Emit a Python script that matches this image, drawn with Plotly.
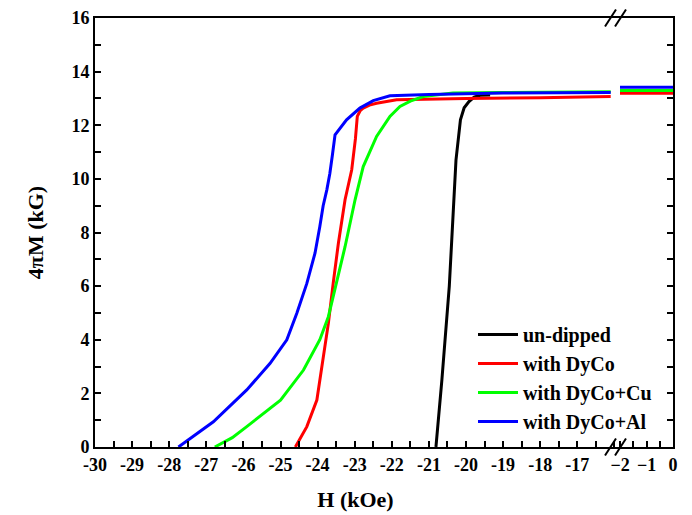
import plotly.graph_objects as go

# ---------------- data ----------------
h_undipped = [-20.81, -20.65, -20.45, -20.27, -20.15, -20.05, -19.92, -19.78, -19.62, -19.35]
m_undipped = [0.0, 2.5, 6.0, 10.7, 12.2, 12.65, 12.88, 13.05, 13.12, 13.13]

h_dyco = [-24.60, -24.45, -24.29, -24.02, -23.85, -23.71, -23.58, -23.44, -23.26, -23.08,
          -22.98, -22.93, -22.85, -22.77, -22.60, -22.41, -21.87, -21.00, -20.00, -18.00, -16.10]
m_dyco = [0.0, 0.35, 0.76, 1.75, 3.25, 4.61, 6.10, 7.60, 9.22, 10.34,
          11.50, 12.33, 12.55, 12.64, 12.75, 12.82, 12.95, 12.98, 13.00, 13.03, 13.07]

h_dyco_cu = [-26.77, -26.30, -25.91, -25.00, -24.38, -23.94, -23.71, -23.49, -23.26, -22.99,
             -22.77, -22.41, -22.05, -21.78, -21.50, -21.15, -20.70, -20.35, -19.00, -17.50, -16.10]
m_dyco_cu = [0.0, 0.35, 0.76, 1.75, 2.87, 4.00, 4.86, 6.10, 7.47, 9.22,
             10.46, 11.58, 12.33, 12.70, 12.90, 13.07, 13.15, 13.20, 13.22, 13.24, 13.25]

h_dyco_al = [-27.75, -27.30, -26.81, -25.91, -25.28, -24.83, -24.56, -24.29, -24.07, -23.94,
             -23.85, -23.75, -23.67, -23.60, -23.53, -23.22, -22.86, -22.50, -22.05, -21.00, -19.00, -16.10]
m_dyco_al = [0.0, 0.45, 0.94, 2.13, 3.12, 4.00, 4.99, 6.10, 7.23, 8.22,
             9.00, 9.60, 10.20, 10.90, 11.64, 12.20, 12.64, 12.92, 13.10, 13.15, 13.20, 13.22]

# right-hand segment of the broken axis (H from -2 to 0)
h_right = [-2.0, 0.0]
m_right_dyco = [13.19, 13.19]
m_right_dyco_cu = [13.30, 13.30]
m_right_dyco_al = [13.42, 13.42]

names = ["un-dipped", "with DyCo", "with DyCo+Cu", "with DyCo+Al"]
colors = ["#000000", "#FF0000", "#00FF00", "#0000FF"]

left_ticks = list(range(-30, -15))          # -30 ... -16
left_ticktext = [str(v) for v in left_ticks[:-1]] + [""]
left_minor = [v + 0.5 for v in range(-30, -16)]
right_ticks = [-2, -1, 0]
right_minor = [-1.5, -0.5]

# ---------------- layout geometry ----------------
W, H = 692, 515
L, R, T, B = 95, 673, 18, 447
PW, PH = R - L, B - T
BREAK_PX = 616
xl_range = [-30, -30 + (BREAK_PX - L) / 37.1]
xr_range = [-2.0 - (620 - BREAK_PX) / 26.5, 0.0]
split = (BREAK_PX - L) / PW


def px(x):
    return (x - L) / PW


def py(y):
    return (B - y) / PH


FONT = "Liberation Serif"

fig = go.Figure()
left_series = [(h_undipped, m_undipped), (h_dyco, m_dyco), (h_dyco_cu, m_dyco_cu), (h_dyco_al, m_dyco_al)]
for (hx, my), nm, c in zip(left_series, names, colors):
    fig.add_trace(go.Scatter(x=hx, y=my, mode="lines", name=nm, legendgroup=nm,
                             line=dict(color=c, width=3), xaxis="x", yaxis="y"))

right_series = [(m_right_dyco, 1), (m_right_dyco_cu, 2), (m_right_dyco_al, 3)]
for my, i in right_series:
    fig.add_trace(go.Scatter(x=h_right, y=my, mode="lines", name=names[i], legendgroup=names[i],
                             showlegend=False, line=dict(color=colors[i], width=3),
                             xaxis="x2", yaxis="y2"))

tickfont = dict(family=FONT, size=18, color="black", weight="bold")
axis_common = dict(showline=True, linecolor="black", linewidth=2, showgrid=False,
                   zeroline=False, ticks="inside", ticklen=6, tickwidth=2, tickcolor="black",
                   tickfont=tickfont, automargin=False)

fig.update_layout(
    width=W, height=H,
    margin=dict(l=L, r=W - R, t=T, b=H - B, autoexpand=False),
    paper_bgcolor="white", plot_bgcolor="white",
    xaxis=dict(domain=[0, split], range=xl_range, anchor="y", mirror=True,
               tickmode="array", tickvals=left_ticks, ticktext=left_ticktext,
               minor=dict(tickmode="array", tickvals=left_minor, ticks="inside",
                          ticklen=6, tickwidth=2, tickcolor="black"),
               title=dict(text="H (kOe)", font=dict(family=FONT, size=22, color="black", weight="bold"),
                          standoff=18),
               **axis_common),
    xaxis2=dict(domain=[split, 1], range=xr_range, anchor="y2", mirror=True,
                tickmode="array", tickvals=right_ticks,
                minor=dict(tickmode="array", tickvals=right_minor, ticks="inside",
                           ticklen=6, tickwidth=2, tickcolor="black"),
                **axis_common),
    yaxis=dict(domain=[0, 1], range=[0, 16], anchor="x",
               tickmode="linear", tick0=0, dtick=2,
               minor=dict(dtick=1, ticks="inside", ticklen=6, tickwidth=2, tickcolor="black"),
               title=dict(text="4πM (kG)", font=dict(family=FONT, size=22, color="black", weight="bold"),
                          standoff=22),
               **axis_common),
    yaxis2=dict(domain=[0, 1], range=[0, 16], anchor="x2", matches="y", side="right",
                tickmode="linear", tick0=0, dtick=2, showticklabels=False,
                minor=dict(dtick=1, ticks="inside", ticklen=6, tickwidth=2, tickcolor="black"),
                **axis_common),
    legend=dict(x=px(473), y=py(315), xanchor="left", yanchor="top",
                bgcolor="rgba(0,0,0,0)", borderwidth=0,
                font=dict(family=FONT, size=20, color="black", weight="bold"),
                itemwidth=40, tracegroupgap=0),
    showlegend=True,
)

# break marks "//" on the bottom and top axis lines
shapes = []
for yc in (T, B):
    for xc in (610.5, 620.5):
        shapes.append(dict(type="line", xref="paper", yref="paper",
                           x0=px(xc - 5.5), y0=py(yc + 8.5), x1=px(xc + 5.5), y1=py(yc - 8.5),
                           line=dict(color="black", width=2), layer="above"))
fig.update_layout(shapes=shapes)

fig.write_html("out.html", config={"displayModeBar": False},
               post_script="document.body.style.margin='0px';")
